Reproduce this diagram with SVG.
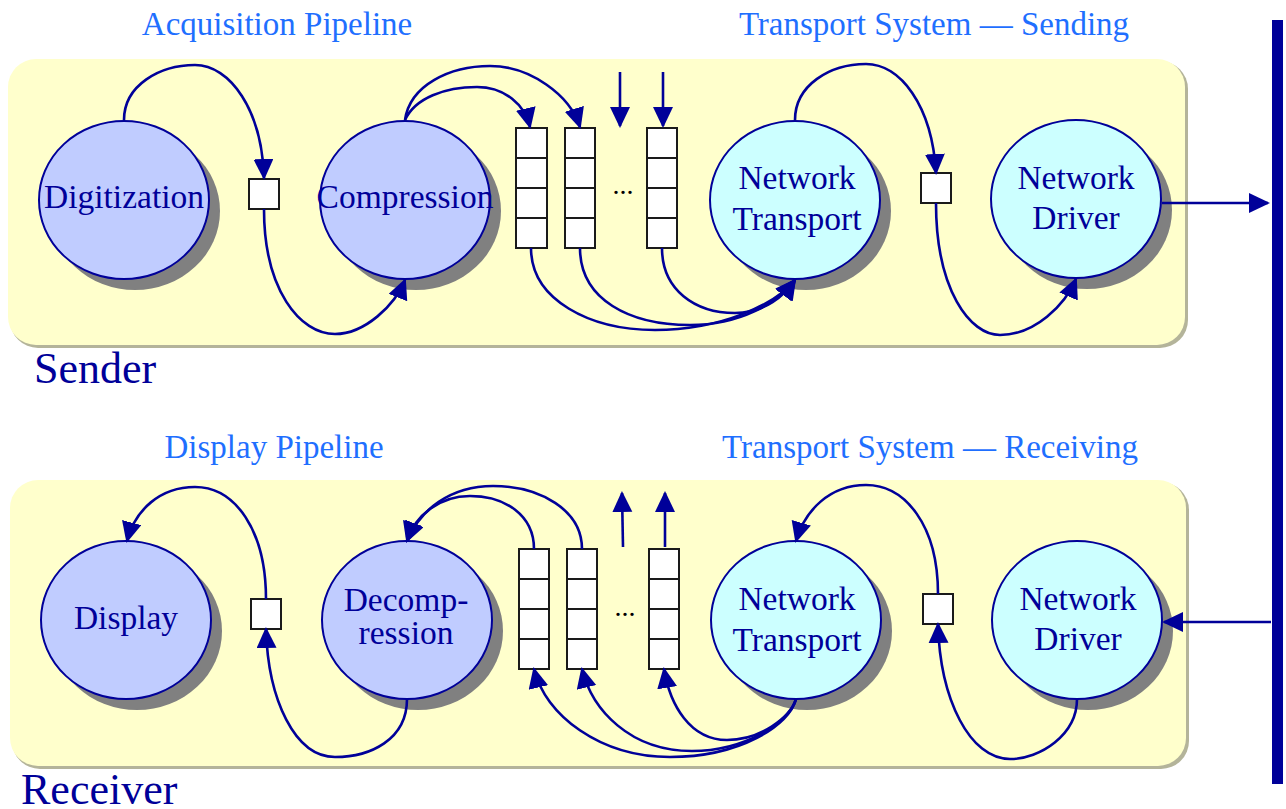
<svg xmlns="http://www.w3.org/2000/svg" width="1286" height="809" viewBox="0 0 1286 809">
<style>
.panel{fill:#FFFFCC}
.pshadow{fill:#B4B49A}
.shadow{fill:#808080}
.e1{fill:#C0CCFF;stroke:#000099;stroke-width:2}
.e2{fill:#CCFFFF;stroke:#000099;stroke-width:2}
.box{fill:#FFFFFF;stroke:#1a1a1a;stroke-width:2}
.lbl{font-family:"Liberation Serif","Times New Roman",serif;font-size:33.5px;fill:#000099;text-anchor:middle}
.title{font-family:"Liberation Serif","Times New Roman",serif;font-size:33px;fill:#1F6FFF;text-anchor:middle}
.big{font-family:"Liberation Serif","Times New Roman",serif;font-size:44px;fill:#000099}
.dots{font-family:"Liberation Serif","Times New Roman",serif;font-size:28px;fill:#000000;text-anchor:middle}
.c{fill:none;stroke:#000099;stroke-width:2.6;marker-end:url(#ah)}
</style>
<defs>
<marker id="ah" markerUnits="userSpaceOnUse" markerWidth="24" markerHeight="24" refX="19" refY="10" orient="auto">
<path d="M0,0 L21,10 L0,20 z" fill="#000099"/>
</marker>
</defs>

<g id="sender-panel">
<rect class="pshadow" x="10" y="61" width="1178" height="287" rx="28"/>
<rect class="panel" x="8" y="59" width="1177" height="286" rx="28"/>
</g>
<g id="receiver-panel">
<rect class="pshadow" x="12" y="482" width="1177" height="287" rx="28"/>
<rect class="panel" x="10" y="480" width="1176" height="286" rx="28"/>
</g>

<g id="titles">
<text class="title" x="277" y="35">Acquisition Pipeline</text>
<text class="title" x="934" y="35">Transport System — Sending</text>
<text class="title" x="274" y="458">Display Pipeline</text>
<text class="title" x="930" y="458">Transport System — Receiving</text>
<text class="big" x="34" y="383">Sender</text>
<text class="big" x="21" y="804">Receiver</text>
</g>

<g id="network-bar">
<rect x="1272" y="20" width="11" height="764" fill="#000099"/>
</g>

<g id="digitization">
<ellipse class="shadow" cx="135" cy="211" rx="85" ry="79"/>
<ellipse class="e1" cx="124" cy="200" rx="85" ry="79"/>
<text class="lbl" x="124" y="208">Digitization</text>
</g>
<g id="compression">
<ellipse class="shadow" cx="416" cy="211" rx="85" ry="79"/>
<ellipse class="e1" cx="405" cy="200" rx="85" ry="79"/>
<text class="lbl" x="405" y="208">Compression</text>
</g>
<g id="send-transport">
<ellipse class="shadow" cx="806" cy="211" rx="85" ry="79"/>
<ellipse class="e2" cx="795" cy="200" rx="85" ry="79"/>
<text class="lbl" x="797" y="189">Network</text>
<text class="lbl" x="797" y="230">Transport</text>
</g>
<g id="send-driver">
<ellipse class="shadow" cx="1087" cy="210" rx="85" ry="79"/>
<ellipse class="e2" cx="1076" cy="199" rx="85" ry="79"/>
<text class="lbl" x="1076" y="189">Network</text>
<text class="lbl" x="1076" y="229">Driver</text>
</g>
<g id="send-buf1"><rect class="box" x="249" y="179" width="30" height="30"/></g>
<g id="send-buf2"><rect class="box" x="921" y="173" width="30" height="30"/></g>
<g id="send-queue1">
<rect class="box" x="516" y="128" width="31" height="30"/><rect class="box" x="516" y="158" width="31" height="30"/><rect class="box" x="516" y="188" width="31" height="30"/><rect class="box" x="516" y="218" width="31" height="30"/>
</g>
<g id="send-queue2">
<rect class="box" x="565" y="128" width="30" height="30"/><rect class="box" x="565" y="158" width="30" height="30"/><rect class="box" x="565" y="188" width="30" height="30"/><rect class="box" x="565" y="218" width="30" height="30"/>
</g>
<g id="send-queue3">
<rect class="box" x="647" y="128" width="30" height="30"/><rect class="box" x="647" y="158" width="30" height="30"/><rect class="box" x="647" y="188" width="30" height="30"/><rect class="box" x="647" y="218" width="30" height="30"/>
</g>
<text class="dots" x="623" y="194">...</text>

<g id="display">
<ellipse class="shadow" cx="137" cy="631" rx="85" ry="79"/>
<ellipse class="e1" cx="126" cy="620" rx="85" ry="79"/>
<text class="lbl" x="126" y="629">Display</text>
</g>
<g id="decompression">
<ellipse class="shadow" cx="418" cy="631" rx="85" ry="79"/>
<ellipse class="e1" cx="407" cy="620" rx="85" ry="79"/>
<text class="lbl" x="406" y="611">Decomp-</text>
<text class="lbl" x="406" y="644">ression</text>
</g>
<g id="recv-transport">
<ellipse class="shadow" cx="807" cy="631" rx="85" ry="79"/>
<ellipse class="e2" cx="796" cy="620" rx="85" ry="79"/>
<text class="lbl" x="797" y="610">Network</text>
<text class="lbl" x="797" y="651">Transport</text>
</g>
<g id="recv-driver">
<ellipse class="shadow" cx="1088" cy="631" rx="85" ry="79"/>
<ellipse class="e2" cx="1077" cy="620" rx="85" ry="79"/>
<text class="lbl" x="1078" y="610">Network</text>
<text class="lbl" x="1078" y="650">Driver</text>
</g>
<g id="recv-buf1"><rect class="box" x="251" y="599" width="30" height="30"/></g>
<g id="recv-buf2"><rect class="box" x="923" y="594" width="30" height="30"/></g>
<g id="recv-queue1">
<rect class="box" x="519" y="549" width="30" height="30"/><rect class="box" x="519" y="579" width="30" height="30"/><rect class="box" x="519" y="609" width="30" height="30"/><rect class="box" x="519" y="639" width="30" height="30"/>
</g>
<g id="recv-queue2">
<rect class="box" x="567" y="549" width="30" height="30"/><rect class="box" x="567" y="579" width="30" height="30"/><rect class="box" x="567" y="609" width="30" height="30"/><rect class="box" x="567" y="639" width="30" height="30"/>
</g>
<g id="recv-queue3">
<rect class="box" x="649" y="549" width="30" height="30"/><rect class="box" x="649" y="579" width="30" height="30"/><rect class="box" x="649" y="609" width="30" height="30"/><rect class="box" x="649" y="639" width="30" height="30"/>
</g>
<text class="dots" x="625" y="616">...</text>

<g id="connectors">
<!-- sender -->
<path class="c" d="M124,120 C124,85 160,65 195,65 C230,65 262,110 264,178"/>
<path class="c" d="M264,209 C264,290 300,334 335,334 C365,334 395,305 405,280"/>
<path class="c" d="M405,120 C410,85 450,66 490,66 C530,66 570,95 580,127"/>
<path class="c" d="M405,120 C415,98 445,87 477,87 C505,87 525,105 530,127"/>
<path class="c" d="M531,248 C531,300 590,330 655,330 C720,330 775,305 795,280"/>
<path class="c" d="M580,248 C580,300 630,325 690,325 C740,325 778,303 795,280"/>
<path class="c" d="M662,248 C662,290 695,313 735,313 C765,313 785,295 795,280"/>
<path class="c" d="M620,72 L620,126"/>
<path class="c" d="M663,72 L663,126"/>
<path class="c" d="M795,120 C795,85 830,64 866,64 C900,64 932,105 936,173"/>
<path class="c" d="M936,203 C936,290 970,335 1000,335 C1035,335 1065,305 1076,279"/>
<path class="c" d="M1162,203 L1268,203"/>
<!-- receiver -->
<path class="c" d="M266,599 C266,530 235,487 195,487 C160,487 135,510 127,541"/>
<path class="c" d="M407,699 C407,740 370,757 335,757 C295,757 268,700 266,629"/>
<path class="c" d="M534,549 C534,515 505,496 470,496 C440,496 415,515 407,541"/>
<path class="c" d="M582,549 C582,510 540,486 493,486 C450,486 420,510 407,541"/>
<path class="c" d="M796,699 C790,725 740,757 670,757 C600,757 545,715 534,669"/>
<path class="c" d="M796,699 C790,722 745,751 692,751 C630,751 592,710 582,669"/>
<path class="c" d="M796,699 C790,718 760,740 727,740 C690,740 670,705 664,669"/>
<path class="c" d="M623,547 L622,493"/>
<path class="c" d="M665,547 L665,493"/>
<path class="c" d="M1077,699 C1077,735 1040,759 1010,759 C970,759 940,700 938,624"/>
<path class="c" d="M938,594 C938,525 905,485 866,485 C830,485 805,510 796,541"/>
<path class="c" d="M1271,622 L1164,622"/>
</g>
</svg>
